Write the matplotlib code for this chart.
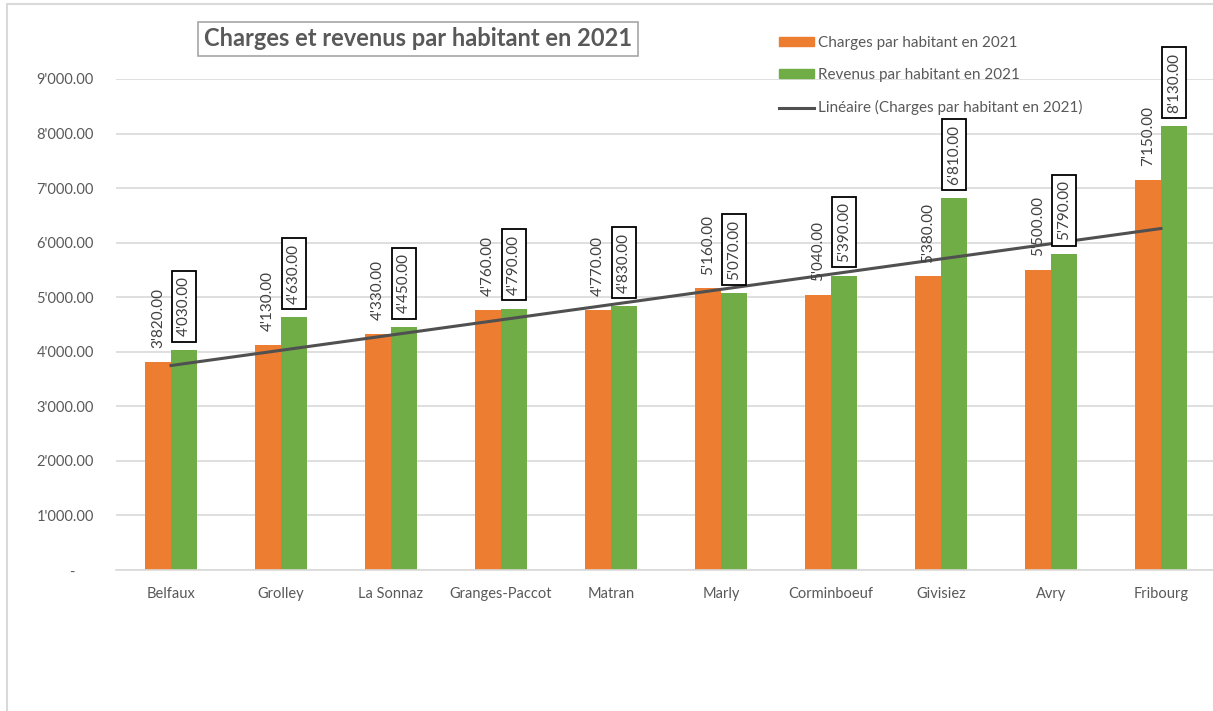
import numpy as np
import matplotlib
matplotlib.use("Agg")
import matplotlib.pyplot as plt
from matplotlib.patches import Rectangle, Patch
from matplotlib.lines import Line2D

plt.rcParams['font.family'] = ['Lato', 'DejaVu Sans']

communes = ['Belfaux', 'Grolley', 'La Sonnaz', 'Granges-Paccot', 'Matran',
            'Marly', 'Corminboeuf', 'Givisiez', 'Avry', 'Fribourg']
charges = [3820, 4130, 4330, 4760, 4770, 5160, 5040, 5380, 5500, 7150]
revenus = [4030, 4630, 4450, 4790, 4830, 5070, 5390, 6810, 5790, 8130]
yticks = [0, 1000, 2000, 3000, 4000, 5000, 6000, 7000, 8000, 9000]

orange = '#ED7D31'
green = '#70AD47'
grey_txt = '#595959'


def fmt(v):
    return f"{v:,.2f}".replace(',', "'")


fig = plt.figure(figsize=(12.13, 7.11), dpi=100)
ax = fig.add_axes([116 / 1213, 141 / 711, 1100 / 1213, 491 / 711])

# chart border (only top and left visible in the crop)
fig.patches.append(Rectangle((7 / 1213, -0.1), 1.2, (707 / 711) + 0.1,
                             transform=fig.transFigure, fill=False,
                             edgecolor='#D9D9D9', linewidth=1.5))

x = np.arange(1, len(communes) + 1)
w = 0.236
ax.bar(x - w / 2, charges, w, color=orange, zorder=2)
ax.bar(x + w / 2, revenus, w, color=green, zorder=2)

# linear trend of charges
coef = np.polyfit(x, charges, 1)
ax.plot(x, np.polyval(coef, x), color='#505050', linewidth=2.2, zorder=4)

for xi, c, r in zip(x, charges, revenus):
    ax.annotate(fmt(c), (xi - w / 2, c), xytext=(0, 10), textcoords='offset points',
                rotation=90, ha='center', va='bottom', fontsize=11, color='#404040',
                zorder=5)
    ax.annotate(fmt(r), (xi + w / 2, r), xytext=(0, 10), textcoords='offset points',
                rotation=90, ha='center', va='bottom', fontsize=11, color='#404040',
                bbox=dict(boxstyle='square,pad=0.35', fc='white', ec='black', lw=1.3),
                zorder=5)

ax.set_xlim(0.5, 10.5)
ax.set_ylim(0, 9000)
ax.set_yticks(yticks)
ax.set_yticklabels(['-     '] + [fmt(v) for v in yticks[1:]])
ax.set_xticks(x)
ax.set_xticklabels(communes)
ax.tick_params(axis='both', length=0, labelsize=10.5, labelcolor=grey_txt)
ax.tick_params(axis='y', pad=16)
ax.tick_params(axis='x', pad=12)
ax.grid(axis='y', color='#D9D9D9', linewidth=1.2, zorder=0)
for s in ['top', 'right', 'left']:
    ax.spines[s].set_visible(False)
ax.spines['bottom'].set_color('#D9D9D9')
ax.spines['bottom'].set_linewidth(1.2)
ax.set_clip_on(False)

fig.text(418 / 1213, 1 - 39 / 711, 'Charges et revenus par habitant en 2021',
         ha='center', va='center', fontsize=17, fontweight='bold', color=grey_txt,
         bbox=dict(boxstyle='square,pad=0.25', fc='white', ec='#A6A6A6', lw=1.2))

handles = [Patch(color=orange), Patch(color=green),
           Line2D([], [], color='#505050', linewidth=2.2)]
labels = ['Charges par habitant en 2021', 'Revenus par habitant en 2021',
          'Linéaire (Charges par habitant en 2021)']
leg = fig.legend(handles, labels, loc='upper left',
                 bbox_to_anchor=(765 / 1213, 1 - 22 / 711), frameon=False,
                 fontsize=11, labelcolor=grey_txt, handlelength=2.3,
                 handleheight=0.5, handletextpad=0.25, labelspacing=1.2)

fig.savefig('out.png', dpi=100)
